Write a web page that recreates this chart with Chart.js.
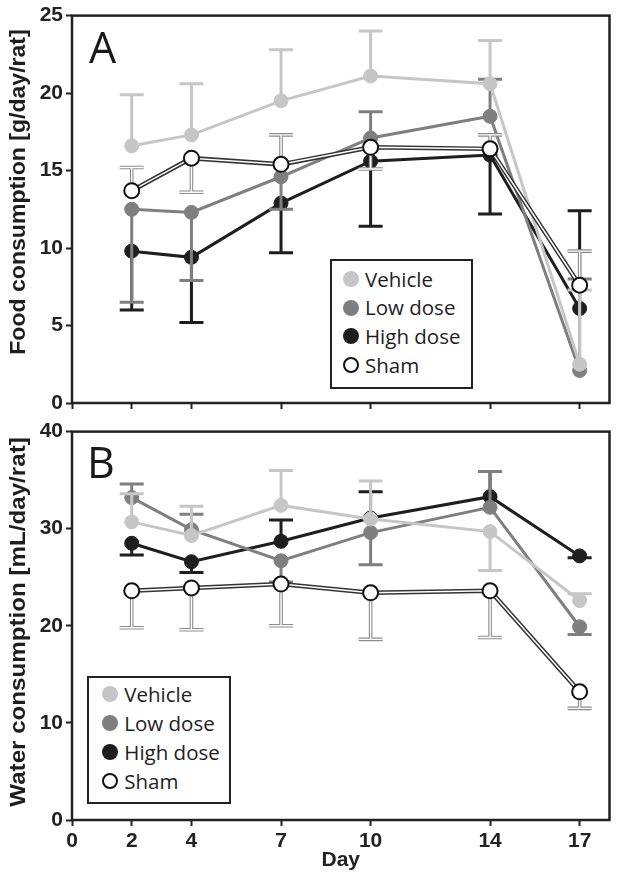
<!DOCTYPE html>
<html>
<head>
<meta charset="utf-8">
<script src="https://cdn.jsdelivr.net/npm/chart.js@4.4.1/dist/chart.umd.min.js"></script>
<style>
  body { margin: 0; background: #fff; }
  #wrap { position: relative; width: 619px; height: 880px; overflow: hidden; }
  canvas { position: absolute; left: 0; }
  #food { top: 0; }
  #water { top: 416px; }
  .legend { position: absolute; border: 2px solid #222; box-sizing: border-box; background: #fff; }
  .row { position: absolute; left: 0; right: 0; height: 29px; }
  .dot { position: absolute; width: 16px; height: 16px; border-radius: 50%; top: 6.5px; box-sizing: border-box; }
  .txt { position: absolute; line-height: 29px; font-family: 'Open Sans', sans-serif; font-size: 20.5px; color: #1e1e1e; white-space: nowrap; }
  .letter { position: absolute; font-family: 'Open Sans', sans-serif; font-size: 43px; line-height: 43px; color: #1a1a1a; }
  .ytitle { position: absolute; font-family: 'Liberation Sans', Arial, sans-serif; font-weight: bold; font-size: 22px; line-height: 22px; color: #1e1e1e; white-space: nowrap; }
</style>
</head>
<body>
<div id="wrap">
  <canvas id="food" width="619" height="420"></canvas>
  <canvas id="water" width="619" height="464"></canvas>
  <div class="letter" style="left:89px; top:25px;">A</div>
  <div class="letter" style="left:87px; top:440px;">B</div>
  <span class="ytitle" id="foodTitle">Food consumption [g/day/rat]</span>
  <span class="ytitle" id="waterTitle">Water consumption [mL/day/rat]</span>
  <div class="legend" id="legA" style="left:330px; top:259px; width:143px; height:130px;"></div>
  <div class="legend" id="legB" style="left:87px; top:676px; width:144px; height:128px;"></div>
</div>
<script>
// days on the x axis
const days = [2, 4, 7, 10, 14, 17];
const xTickValues = [0, 2, 4, 7, 10, 14, 17];
const seriesNames = ['Vehicle', 'Low dose', 'High dose', 'Sham'];

// panel A - food consumption (mean and end of error bar)
const foodVehicle = [16.6, 17.3, 19.5, 21.1, 20.6, 2.5];
const foodVehicleErr = [19.9, 20.6, 22.8, 24.0, 23.4, 7.3];
const foodLow = [12.5, 12.3, 14.6, 17.1, 18.5, 2.1];
const foodLowErr = [6.5, 7.9, 12.5, 18.8, 20.9, 8.0];
const foodHigh = [9.8, 9.4, 12.9, 15.6, 16.0, 6.1];
const foodHighErr = [6.0, 5.2, 9.7, 11.4, 12.2, 12.4];
const foodSham = [13.7, 15.8, 15.4, 16.5, 16.4, 7.6];
const foodShamErr = [15.2, 13.6, 17.3, 15.1, 17.3, 9.8];

// panel B - water consumption
const waterVehicle = [30.7, 29.3, 32.4, 31.0, 29.7, 22.6];
const waterVehicleErr = [33.6, 32.3, 36.0, 34.9, 25.7, 23.3];
const waterLow = [33.2, 29.9, 26.7, 29.6, 32.2, 19.9];
const waterLowErr = [34.6, 31.5, 24.5, 26.3, 35.9, 19.1];
const waterHigh = [28.5, 26.6, 28.7, 31.1, 33.3, 27.2];
const waterHighErr = [27.3, 25.5, 30.9, 33.8, 35.9, 27.0];
const waterSham = [23.6, 23.9, 24.3, 23.4, 23.6, 13.2];
const waterShamErr = [19.8, 19.6, 20.0, 18.6, 18.8, 11.5];

const colVehicle = '#c6c6c6';
const colLow = '#7f7f7f';
const colHigh = '#1f1d1e';

Chart.defaults.font.family = "'Liberation Sans', Arial, sans-serif";
Chart.defaults.color = '#222';

function pts(vals) {
  return days.map((d, i) => ({ x: d, y: vals[i] }));
}

function solidSet(label, vals, errs, color, order) {
  return {
    label: label,
    data: pts(vals),
    borderColor: color,
    backgroundColor: color,
    borderWidth: 3,
    pointRadius: 7,
    pointBorderWidth: 1,
    pointBorderColor: color,
    pointBackgroundColor: color,
    errEnds: errs,
    errColor: color,
    errWidth: 3,
    order: order
  };
}

function shamSets(vals, errs) {
  return [
    { label: 'Sham', data: pts(vals), borderColor: '#333', borderWidth: 4.5, pointRadius: 0,
      errEnds: errs, errColor: '#8c8c8c', errWidth: 3.6, errInner: 1.4, order: 2 },
    { label: 'Sham inner', data: pts(vals), borderColor: '#fff', borderWidth: 1.5, pointRadius: 0, order: 1 },
    { label: 'Sham points', data: pts(vals), showLine: false, pointRadius: 7.5, pointBorderWidth: 2,
      pointBorderColor: '#111', pointBackgroundColor: '#fff', order: 0 }
  ];
}

function drawBar(ctx, x, y0, y1, color, width) {
  ctx.strokeStyle = color;
  ctx.lineWidth = width;
  ctx.lineCap = 'butt';
  ctx.beginPath();
  ctx.moveTo(x, y0);
  ctx.lineTo(x, y1);
  ctx.moveTo(x - 12, y1);
  ctx.lineTo(x + 12, y1);
  ctx.stroke();
}

const errorBars = {
  id: 'errorBars',
  beforeDatasetDraw(chart, args) {
    const ds = chart.data.datasets[args.index];
    if (!ds.errEnds) return;
    const ctx = chart.ctx;
    const yScale = chart.scales.y;
    ctx.save();
    args.meta.data.forEach((p, i) => {
      const yEnd = yScale.getPixelForValue(ds.errEnds[i]);
      drawBar(ctx, p.x, p.y, yEnd, ds.errColor, ds.errWidth);
      if (ds.errInner) drawBar(ctx, p.x, p.y, yEnd, '#fff', ds.errInner);
    });
    ctx.restore();
  }
};

const frame = {
  id: 'frame',
  afterDatasetsDraw(chart) {
    const a = chart.chartArea;
    const ctx = chart.ctx;
    ctx.save();
    ctx.strokeStyle = '#222';
    ctx.lineWidth = 2.5;
    ctx.strokeRect(a.left, a.top, a.right - a.left, a.bottom - a.top);
    ctx.restore();
  }
};

function makeChart(id, datasets, yMax, yStep, showX, xHeight, padTop) {
  return new Chart(document.getElementById(id), {
    type: 'line',
    data: { datasets: datasets },
    options: {
      responsive: false,
      animation: false,
      devicePixelRatio: 1,
      layout: { padding: { top: padTop, right: 7, left: 0, bottom: 0 } },
      plugins: { legend: { display: false }, tooltip: { enabled: false } },
      scales: {
        x: {
          type: 'linear', min: 0, max: 18,
          afterBuildTicks: s => { s.ticks = xTickValues.map(v => ({ value: v })); },
          afterFit: s => { s.height = xHeight; },
          grid: { drawOnChartArea: false, tickLength: 6, tickWidth: 2, tickColor: '#222' },
          border: { display: false },
          ticks: { display: showX, color: '#222', padding: 3, maxRotation: 0, autoSkip: false,
                   font: { size: 21, weight: 'bold' } },
          title: { display: showX, text: 'Day', color: '#222', padding: { top: 0, bottom: 7 },
                   font: { size: 21, weight: 'bold' } }
        },
        y: {
          min: 0, max: yMax,
          afterFit: s => { s.width = 72; },
          grid: { drawOnChartArea: false, tickLength: 6, tickWidth: 2, tickColor: '#222' },
          border: { display: false },
          ticks: { stepSize: yStep, color: '#222', padding: 3, font: { size: 21, weight: 'bold' } }
        }
      }
    },
    plugins: [errorBars, frame]
  });
}

makeChart('food', [
  solidSet('Vehicle', foodVehicle, foodVehicleErr, colVehicle, 3),
  solidSet('Low dose', foodLow, foodLowErr, colLow, 4),
  solidSet('High dose', foodHigh, foodHighErr, colHigh, 5)
].concat(shamSets(foodSham, foodShamErr)), 25, 5, false, 17, 14);

makeChart('water', [
  solidSet('Vehicle', waterVehicle, waterVehicleErr, colVehicle, 3),
  solidSet('Low dose', waterLow, waterLowErr, colLow, 4),
  solidSet('High dose', waterHigh, waterHighErr, colHigh, 5)
].concat(shamSets(waterSham, waterShamErr)), 40, 10, true, 60, 13);

// legends
function buildLegend(id, dotLeft, textLeft, firstTop, step) {
  const box = document.getElementById(id);
  const fills = [colVehicle, colLow, colHigh, '#fff'];
  seriesNames.forEach((name, i) => {
    const row = document.createElement('div');
    row.className = 'row';
    row.style.top = (firstTop + i * step) + 'px';
    const dot = document.createElement('span');
    dot.className = 'dot';
    dot.style.left = dotLeft + 'px';
    dot.style.background = fills[i];
    if (i === 3) dot.style.border = '2px solid #111';
    const txt = document.createElement('span');
    txt.className = 'txt';
    txt.style.left = textLeft + 'px';
    txt.textContent = name;
    row.appendChild(dot);
    row.appendChild(txt);
    box.appendChild(row);
  });
}
buildLegend('legA', 10.7, 33, 3.5, 28.7);
buildLegend('legB', 13, 35.3, 1.8, 29);

// rotated axis titles, squeezed to the reference length
function placeTitle(id, cx, cy, len) {
  const el = document.getElementById(id);
  const w = el.offsetWidth, h = el.offsetHeight;
  el.style.left = (cx - w / 2) + 'px';
  el.style.top = (cy - h / 2) + 'px';
  el.style.transform = 'rotate(-90deg) scaleX(' + (len / w) + ')';
}
placeTitle('foodTitle', 18, 192, 325);
placeTitle('waterTitle', 18, 622, 370);
</script>
</body>
</html>
